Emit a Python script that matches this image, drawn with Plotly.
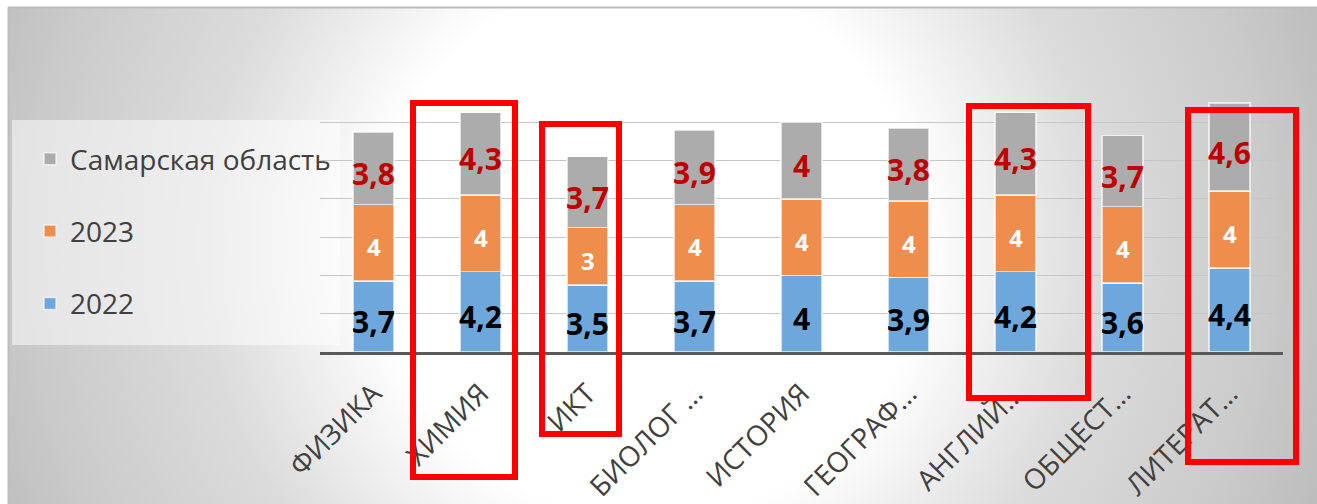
import base64
import plotly.graph_objects as go

# ---------------- data ----------------
categories = ["ФИЗИКА", "ХИМИЯ", "ИКТ", "БИОЛОГ …", "ИСТОРИЯ",
              "ГЕОГРАФ…", "АНГЛИЙ…", "ОБЩЕСТ…", "ЛИТЕРАТ…"]
values_2022 = [3.7, 4.2, 3.5, 3.7, 4.0, 3.9, 4.2, 3.6, 4.4]
values_2023 = [4, 4, 3, 4, 4, 4, 4, 4, 4]
values_samara = [3.8, 4.3, 3.7, 3.9, 4.0, 3.8, 4.3, 3.7, 4.6]
series_names = ["2022", "2023", "Самарская область"]

# ---------------- geometry / style ----------------
W, H = 1317, 504             # figure fills the page (body margin removed)
# plot area in page pixels: x 320..1283, y 84..352
ML, MR, MT, MB = 320, W - 1283, 84, H - 352
PW, PH = W - ML - MR, H - MT - MB
# chart-area (gradient panel) origin in page pixels
CX0, CY0 = 8, 7


def px_x(p):
    """page pixel x -> paper x"""
    return (p - ML) / PW


def px_y(p):
    """page pixel y -> paper y"""
    return (H - MB - p) / PH


def fmt(v):
    return f"{v:g}".replace(".", ",")


colors = ["#6ea7dc", "#ef8d4c", "#acacac"]
ranks = [3, 2, 1]
label_fonts = [
    dict(family="Open Sans", size=30, color="#000000", weight="bold"),
    dict(family="Open Sans", size=24, color="#ffffff", weight="bold"),
    dict(family="Open Sans", size=30, color="#c00000", weight="bold"),
]
label_shift = [-5, -4, -5]   # px offset of label below segment centre

fig = go.Figure()

series = [values_2022, values_2023, values_samara]
for name, vals, col, rk in zip(series_names, series, colors, ranks):
    fig.add_trace(go.Bar(
        x=categories, y=vals, name=name, legendgroup=name, legendrank=rk,
        marker=dict(color=col, line=dict(color="rgba(255,255,255,0.65)", width=1.5)),
        hoverinfo="skip",
    ))

# data labels at segment centres
annotations = []
base = [0.0] * len(categories)
for vals, f, sh in zip(series, label_fonts, label_shift):
    for c, b, v in zip(categories, base, vals):
        annotations.append(dict(x=c, y=b + v / 2, xref="x", yref="y",
                                text=fmt(v), showarrow=False, font=f,
                                yshift=sh, xanchor="center", yanchor="middle"))
    base = [b + v for b, v in zip(base, vals)]

# background gradient (chart area) as an SVG image
GW, GH = W - CX0, H - CY0
svg = (
    f'<svg xmlns="http://www.w3.org/2000/svg" width="{GW}" height="{GH}" '
    f'viewBox="0 0 {GW} {GH}" preserveAspectRatio="none">'
    '<defs><radialGradient id="g" gradientUnits="userSpaceOnUse" '
    f'cx="{650 - CX0}" cy="{245 - CY0}" r="720">'
    '<stop offset="0" stop-color="#ffffff"/>'
    '<stop offset="0.38" stop-color="#ffffff"/>'
    '<stop offset="0.62" stop-color="#dcdcdc"/>'
    '<stop offset="0.85" stop-color="#cbcbcb"/>'
    '<stop offset="1" stop-color="#bcbcbc"/>'
    '</radialGradient></defs>'
    f'<rect x="0" y="0" width="{GW}" height="{GH}" fill="url(#g)"/></svg>'
)
src = "data:image/svg+xml;base64," + base64.b64encode(svg.encode("utf-8")).decode()

shapes = []
# chart-area border (top and left edges)
shapes.append(dict(type="line", xref="paper", yref="paper",
                   x0=px_x(CX0), x1=px_x(W + 2), y0=px_y(CY0 + 0.5), y1=px_y(CY0 + 0.5),
                   line=dict(color="#bdbdbd", width=2)))
shapes.append(dict(type="line", xref="paper", yref="paper",
                   x0=px_x(CX0 + 0.5), x1=px_x(CX0 + 0.5), y0=px_y(CY0), y1=px_y(H + 2),
                   line=dict(color="#bdbdbd", width=2)))
# legend panel
shapes.append(dict(type="rect", xref="paper", yref="paper", layer="below",
                   x0=px_x(12), x1=px_x(340), y0=px_y(120), y1=px_y(345),
                   fillcolor="rgba(255,255,255,0.5)", line=dict(width=0)))
# red highlight boxes (page pixel spans)
boxes = [(413, 515, 103, 477), (542, 619, 124, 434),
         (969, 1088, 106, 398), (1188, 1296, 110, 462)]
for x0, x1, y0, y1 in boxes:
    shapes.append(dict(type="rect", xref="paper", yref="paper", layer="above",
                       x0=px_x(x0), x1=px_x(x1), y0=px_y(y0), y1=px_y(y1),
                       line=dict(color="#ff0000", width=6),
                       fillcolor="rgba(0,0,0,0)"))

fig.update_layout(
    width=W, height=H,
    margin=dict(l=ML, r=MR, t=MT, b=MB, pad=0, autoexpand=False),
    barmode="stack", bargap=0.615,
    paper_bgcolor="#ffffff", plot_bgcolor="rgba(0,0,0,0)",
    font=dict(family="Open Sans", color="#404040"),
    showlegend=True,
    legend=dict(x=px_x(30), y=px_y(134), xanchor="left", yanchor="top",
                bgcolor="rgba(0,0,0,0)", traceorder="grouped",
                tracegroupgap=33, font=dict(size=28, color="#404040"),
                itemclick=False),
    images=[dict(source=src, xref="paper", yref="paper",
                 x=px_x(CX0), y=px_y(CY0), sizex=GW / PW, sizey=GH / PH,
                 xanchor="left", yanchor="top", sizing="stretch",
                 layer="below")],
    shapes=shapes,
    annotations=annotations,
    xaxis=dict(showline=True, linecolor="#595959", linewidth=3,
               tickangle=-45, tickfont=dict(size=28, color="#404040"),
               ticks="outside", ticklen=11, tickcolor="rgba(0,0,0,0)",
               showgrid=False, fixedrange=True, automargin=False),
    yaxis=dict(range=[0, 14], dtick=2, showticklabels=False,
               showgrid=True, gridcolor="#c6c6c6", gridwidth=1,
               zeroline=False, showline=False, fixedrange=True,
               automargin=False),
)

fig.write_html(
    "out.html",
    config={"displayModeBar": False, "staticPlot": True},
    post_script="document.body.style.margin='0';"
                "document.body.style.overflow='hidden';"
                "document.documentElement.style.overflow='hidden';",
)
